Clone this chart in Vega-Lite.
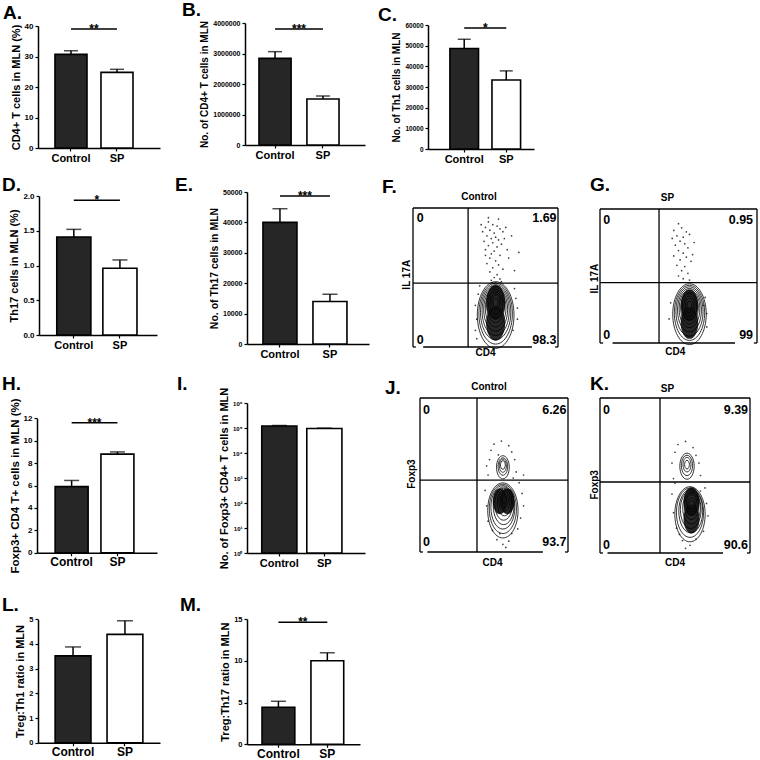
{
"$schema":"https://vega.github.io/schema/vega-lite/v6.json",
"background":"white",
"padding":0,
"columns":4,
"spacing":0,
"bounds":"flush",
"align":"each",
"config":{
 "view":{"stroke":null},
 "font":"Liberation Sans",
 "axis":{"labelFont":"Liberation Sans","labelFontWeight":"bold","labelColor":"black","titleFont":"Liberation Sans","titleFontWeight":"bold","titleFontSize":11,"titleColor":"black","domainColor":"black","domainWidth":1.5,"tickColor":"black","tickWidth":1.2,"tickSize":3,"labelPadding":2,"titlePadding":3,"grid":false},
 "axisX":{"labelFontSize":11,"labelAngle":0,"labelPadding":1},
 "axisY":{"labelFontSize":8},
 "title":{"font":"Liberation Sans","fontSize":19,"fontWeight":"bold","color":"black","anchor":"start","frame":"group","offset":0,"baseline":"alphabetic"},
 "text":{"font":"Liberation Sans","fontWeight":"bold","color":"black"}
},
"datasets":{
 "bars":[
  {"p":"A","g":"Control","m":30.7,"u":31.9},{"p":"A","g":"SP","m":24.8,"u":25.8},
  {"p":"B","g":"Control","m":2840000,"u":3060000},{"p":"B","g":"SP","m":1510000,"u":1610000},
  {"p":"C","g":"Control","m":48600,"u":53100},{"p":"C","g":"SP","m":33400,"u":37800},
  {"p":"D","g":"Control","m":1.41,"u":1.52},{"p":"D","g":"SP","m":0.96,"u":1.08},
  {"p":"E","g":"Control","m":40000,"u":44500},{"p":"E","g":"SP","m":14000,"u":16400},
  {"p":"H","g":"Control","m":5.9,"u":6.45},{"p":"H","g":"SP","m":8.8,"u":9.0},
  {"p":"I","g":"Control","m":120000,"u":126000},{"p":"I","g":"SP","m":95000,"u":99000},
  {"p":"L","g":"Control","m":3.52,"u":3.88},{"p":"L","g":"SP","m":4.39,"u":4.94},
  {"p":"M","g":"Control","m":4.43,"u":5.15},{"p":"M","g":"SP","m":10.0,"u":10.95}
 ],
 "sig":[
  {"p":"A","m":39,"s":"**"},{"p":"B","m":3800000,"s":"***"},{"p":"C","m":58500,"s":"*"},
  {"p":"D","m":1.94,"s":"*"},{"p":"E","m":48700,"s":"***"},{"p":"H","m":11.6,"s":"***"},{"p":"M","m":14.6,"s":"**"}
 ],
 "rings":[
  {"p":"F","x":57,"y":23,"r":23},{"p":"F","x":57,"y":24,"r":21},{"p":"F","x":57,"y":25,"r":19},{"p":"F","x":57,"y":26,"r":17},{"p":"F","x":57,"y":27,"r":15},{"p":"F","x":57,"y":28,"r":13},{"p":"F","x":57,"y":29,"r":11},{"p":"F","x":57,"y":30,"r":9},{"p":"F","x":57,"y":31,"r":7},{"p":"F","x":57,"y":32,"r":5},{"p":"F","x":57,"y":32,"r":3},
  {"p":"G","x":57,"y":21.5,"r":21},{"p":"G","x":57,"y":22.5,"r":19},{"p":"G","x":57,"y":23.5,"r":17},{"p":"G","x":57,"y":24.5,"r":15},{"p":"G","x":57,"y":25.5,"r":13},{"p":"G","x":57,"y":26,"r":11},{"p":"G","x":57,"y":27,"r":9},{"p":"G","x":57,"y":27.5,"r":7},{"p":"G","x":57,"y":28,"r":5},{"p":"G","x":57,"y":28,"r":3},
  {"p":"J","x":56,"y":27,"r":19},{"p":"J","x":56,"y":28,"r":17},{"p":"J","x":56,"y":29,"r":15},{"p":"J","x":56.5,"y":30,"r":13},{"p":"J","x":56.5,"y":31,"r":11},{"p":"J","x":57,"y":32,"r":9},{"p":"J","x":57,"y":33,"r":7},{"p":"J","x":57,"y":33.5,"r":5},{"p":"J","x":57,"y":34,"r":3},
  {"p":"J","x":56,"y":55,"r":8},{"p":"J","x":56,"y":55.5,"r":6},{"p":"J","x":56,"y":56,"r":4.5},{"p":"J","x":56,"y":56.5,"r":3},
  {"p":"K","x":60,"y":25,"r":19},{"p":"K","x":60,"y":26,"r":17},{"p":"K","x":60.5,"y":27,"r":15},{"p":"K","x":60.5,"y":28,"r":13},{"p":"K","x":61,"y":29,"r":11},{"p":"K","x":61,"y":30,"r":9},{"p":"K","x":61,"y":31,"r":7},{"p":"K","x":61,"y":31,"r":5},{"p":"K","x":61,"y":31,"r":3},
  {"p":"K","x":58,"y":56,"r":9},{"p":"K","x":58,"y":56.5,"r":7},{"p":"K","x":58,"y":57,"r":5},{"p":"K","x":58,"y":57,"r":3}
 ],
 "cores":[
  {"p":"F","x":57,"y":32,"r":12},{"p":"F","x":57,"y":17,"r":12},
  {"p":"G","x":57,"y":28,"r":11},{"p":"G","x":57,"y":15,"r":11},
  {"p":"J","x":54,"y":33,"r":9},{"p":"J","x":59,"y":33,"r":9},
  {"p":"K","x":61,"y":33,"r":10},{"p":"K","x":61,"y":22,"r":10}
 ],
 "dots":[
  {"p":"F","x":52,"y":90},{"p":"F","x":55,"y":88},{"p":"F","x":50,"y":86},{"p":"F","x":58,"y":87},{"p":"F","x":53,"y":84},{"p":"F","x":60,"y":85},{"p":"F","x":48,"y":83},{"p":"F","x":56,"y":82},{"p":"F","x":62,"y":83},{"p":"F","x":51,"y":80},{"p":"F","x":57,"y":79},{"p":"F","x":54,"y":78},{"p":"F","x":59,"y":77},{"p":"F","x":49,"y":76},{"p":"F","x":63,"y":78},{"p":"F","x":55,"y":75},{"p":"F","x":52,"y":73},{"p":"F","x":58,"y":72},{"p":"F","x":61,"y":74},{"p":"F","x":50,"y":70},{"p":"F","x":56,"y":69},{"p":"F","x":54,"y":67},{"p":"F","x":60,"y":66},{"p":"F","x":65,"y":70},{"p":"F","x":53,"y":64},{"p":"F","x":57,"y":62},{"p":"F","x":51,"y":60},{"p":"F","x":59,"y":59},{"p":"F","x":55,"y":57},{"p":"F","x":62,"y":56},{"p":"F","x":53,"y":54},{"p":"F","x":58,"y":52},{"p":"F","x":56,"y":50},{"p":"F","x":60,"y":49},{"p":"F","x":54,"y":48},{"p":"F","x":66,"y":64},{"p":"F","x":47,"y":88},{"p":"F","x":64,"y":86},{"p":"F","x":52,"y":93},{"p":"F","x":59,"y":92},{"p":"F","x":68,"y":80},{"p":"F","x":50,"y":66},{"p":"F","x":57,"y":46},{"p":"F","x":61,"y":47},{"p":"F","x":55,"y":46},{"p":"F","x":73,"y":68},{"p":"F","x":70,"y":55},{"p":"F","x":43,"y":30},{"p":"F","x":44,"y":20},{"p":"F","x":43,"y":12},{"p":"F","x":45,"y":38},{"p":"F","x":44,"y":6},{"p":"F","x":71,"y":35},{"p":"F","x":72,"y":28},{"p":"F","x":70,"y":42},{"p":"F","x":46,"y":44},{"p":"F","x":69,"y":12},{"p":"F","x":72,"y":20},
  {"p":"G","x":50,"y":89},{"p":"G","x":52,"y":86},{"p":"G","x":47,"y":84},{"p":"G","x":55,"y":83},{"p":"G","x":49,"y":80},{"p":"G","x":53,"y":79},{"p":"G","x":57,"y":81},{"p":"G","x":51,"y":76},{"p":"G","x":48,"y":73},{"p":"G","x":54,"y":74},{"p":"G","x":56,"y":71},{"p":"G","x":50,"y":69},{"p":"G","x":53,"y":67},{"p":"G","x":47,"y":65},{"p":"G","x":55,"y":64},{"p":"G","x":51,"y":62},{"p":"G","x":58,"y":61},{"p":"G","x":49,"y":58},{"p":"G","x":54,"y":57},{"p":"G","x":52,"y":54},{"p":"G","x":56,"y":52},{"p":"G","x":50,"y":50},{"p":"G","x":53,"y":48},{"p":"G","x":57,"y":47},{"p":"G","x":59,"y":66},{"p":"G","x":46,"y":78},{"p":"G","x":60,"y":75},{"p":"G","x":66,"y":28},{"p":"G","x":68,"y":22},{"p":"G","x":67,"y":34},{"p":"G","x":45,"y":30},{"p":"G","x":44,"y":18},{"p":"G","x":68,"y":12},
  {"p":"J","x":50,"y":70},{"p":"J","x":55,"y":72},{"p":"J","x":60,"y":69},{"p":"J","x":62,"y":65},{"p":"J","x":48,"y":66},{"p":"J","x":53,"y":63},{"p":"J","x":64,"y":60},{"p":"J","x":47,"y":60},{"p":"J","x":65,"y":52},{"p":"J","x":46,"y":50},{"p":"J","x":67,"y":45},{"p":"J","x":44,"y":40},{"p":"J","x":69,"y":38},{"p":"J","x":45,"y":30},{"p":"J","x":70,"y":30},{"p":"J","x":68,"y":22},{"p":"J","x":46,"y":20},{"p":"J","x":52,"y":8},{"p":"J","x":56,"y":5},{"p":"J","x":60,"y":7},{"p":"J","x":54,"y":12},{"p":"J","x":62,"y":12},{"p":"J","x":49,"y":14},{"p":"J","x":66,"y":15},{"p":"J","x":58,"y":3},{"p":"J","x":63,"y":48},{"p":"J","x":45,"y":56},{"p":"J","x":70,"y":50},
  {"p":"K","x":52,"y":70},{"p":"K","x":57,"y":72},{"p":"K","x":62,"y":68},{"p":"K","x":64,"y":63},{"p":"K","x":50,"y":65},{"p":"K","x":66,"y":58},{"p":"K","x":48,"y":58},{"p":"K","x":67,"y":50},{"p":"K","x":49,"y":48},{"p":"K","x":70,"y":42},{"p":"K","x":48,"y":38},{"p":"K","x":71,"y":32},{"p":"K","x":49,"y":26},{"p":"K","x":72,"y":24},{"p":"K","x":51,"y":16},{"p":"K","x":69,"y":14},{"p":"K","x":55,"y":8},{"p":"K","x":60,"y":5},{"p":"K","x":64,"y":9},{"p":"K","x":57,"y":3},{"p":"K","x":53,"y":12},{"p":"K","x":67,"y":40},{"p":"K","x":50,"y":45}
 ],
 "lines":[
  {"p":"F","x":0,"x2":100,"y":100,"y2":100},{"p":"F","x":0,"x2":0,"y":0,"y2":100},{"p":"F","x":100,"x2":100,"y":0,"y2":100},{"p":"F","x":7,"x2":82,"y":0,"y2":0},{"p":"F","x":0,"x2":2,"y":0,"y2":0},{"p":"F","x":98,"x2":100,"y":0,"y2":0},{"p":"F","x":38,"x2":38,"y":0,"y2":100},{"p":"F","x":0,"x2":100,"y":46,"y2":46},
  {"p":"G","x":0,"x2":100,"y":100,"y2":100},{"p":"G","x":0,"x2":0,"y":0,"y2":100},{"p":"G","x":100,"x2":100,"y":0,"y2":100},{"p":"G","x":8,"x2":86,"y":0,"y2":0},{"p":"G","x":0,"x2":2,"y":0,"y2":0},{"p":"G","x":98,"x2":100,"y":0,"y2":0},{"p":"G","x":37.6,"x2":37.6,"y":0,"y2":100},{"p":"G","x":0,"x2":100,"y":45,"y2":45},
  {"p":"J","x":0,"x2":100,"y":100,"y2":100},{"p":"J","x":0,"x2":0,"y":0,"y2":100},{"p":"J","x":100,"x2":100,"y":0,"y2":100},{"p":"J","x":5,"x2":83,"y":0,"y2":0},{"p":"J","x":0,"x2":2,"y":0,"y2":0},{"p":"J","x":98,"x2":100,"y":0,"y2":0},{"p":"J","x":38.5,"x2":38.5,"y":0,"y2":100},{"p":"J","x":0,"x2":100,"y":46.7,"y2":46.7},
  {"p":"K","x":0,"x2":100,"y":100,"y2":100},{"p":"K","x":0,"x2":0,"y":0,"y2":100},{"p":"K","x":100,"x2":100,"y":0,"y2":100},{"p":"K","x":5,"x2":82,"y":0,"y2":0},{"p":"K","x":0,"x2":2,"y":0,"y2":0},{"p":"K","x":98,"x2":100,"y":0,"y2":0},{"p":"K","x":40,"x2":40,"y":0,"y2":100},{"p":"K","x":0,"x2":100,"y":45.8,"y2":45.8}
 ],
 "ftext":[
  {"p":"F","x":45.5,"y":108,"t":"Control","k":"h"},{"p":"F","x":50,"y":-4.5,"t":"CD4","k":"h"},{"p":"F","x":-4,"y":52,"t":"IL 17A","k":"v"},{"p":"F","x":2.5,"y":93,"t":"0","k":"nl"},{"p":"F","x":99,"y":93,"t":"1.69","k":"nr"},{"p":"F","x":2.5,"y":5,"t":"0","k":"nl"},{"p":"F","x":99,"y":5,"t":"98.3","k":"nr"},
  {"p":"G","x":43,"y":108,"t":"SP","k":"h"},{"p":"G","x":48,"y":-7,"t":"CD4","k":"h"},{"p":"G","x":-3,"y":48,"t":"IL 17A","k":"v"},{"p":"G","x":2,"y":92,"t":"0","k":"nl"},{"p":"G","x":97.5,"y":92,"t":"0.95","k":"nr"},{"p":"G","x":2,"y":6,"t":"0","k":"nl"},{"p":"G","x":97.5,"y":6,"t":"99","k":"nr"},
  {"p":"J","x":46.6,"y":107,"t":"Control","k":"h"},{"p":"J","x":49,"y":-7,"t":"CD4","k":"h"},{"p":"J","x":-5.4,"y":50.6,"t":"Foxp3","k":"v"},{"p":"J","x":2,"y":92,"t":"0","k":"nl"},{"p":"J","x":99,"y":92,"t":"6.26","k":"nr"},{"p":"J","x":2,"y":6.5,"t":"0","k":"nl"},{"p":"J","x":99,"y":6.5,"t":"93.7","k":"nr"},
  {"p":"K","x":45,"y":106,"t":"SP","k":"h"},{"p":"K","x":50,"y":-6.5,"t":"CD4","k":"h"},{"p":"K","x":-3.3,"y":44,"t":"Foxp3","k":"v"},{"p":"K","x":2,"y":92,"t":"0","k":"nl"},{"p":"K","x":98.7,"y":92,"t":"9.39","k":"nr"},{"p":"K","x":2,"y":5,"t":"0","k":"nl"},{"p":"K","x":98.7,"y":5,"t":"90.6","k":"nr"}
 ]
},
"concat":[
 {"width":200,"height":175,"title":{"text":"A.","dx":3,"dy":27},
  "encoding":{"x":{"field":"g","type":"nominal","scale":{"domain":["Control","SP"],"range":[38,160],"paddingInner":0.304,"paddingOuter":0.478,"align":0.386},"axis":{"title":null,"offset":-27}},
   "y":{"field":"m","type":"quantitative","scale":{"domain":[0,40],"range":[148,26],"nice":false},"axis":{"title":"CD4+ T cells in MLN (%)","values":[0,10,20,30,40],"format":"d","offset":-38,"labelFontSize":8}}},
  "layer":[
   {"data":{"name":"bars"},"transform":[{"filter":"datum.p==='A'"}],"mark":{"type":"bar","stroke":"black","strokeWidth":1.6},"encoding":{"fill":{"field":"g","type":"nominal","scale":{"domain":["Control","SP"],"range":["#262626","#ffffff"]},"legend":null}}},
   {"data":{"name":"bars"},"transform":[{"filter":"datum.p==='A'"}],"mark":{"type":"rule","strokeWidth":1.5,"color":"black"},"encoding":{"y2":{"field":"u"}}},
   {"data":{"name":"bars"},"transform":[{"filter":"datum.p==='A'"}],"mark":{"type":"tick","size":14,"thickness":1.5,"color":"black"},"encoding":{"y":{"field":"u","type":"quantitative"}}},
   {"data":{"name":"sig"},"transform":[{"filter":"datum.p==='A'"}],"mark":{"type":"rule","strokeWidth":1.5,"color":"black"},"encoding":{"x":{"datum":"Control"},"x2":{"datum":"SP"}}},
   {"data":{"name":"sig"},"transform":[{"filter":"datum.p==='A'"}],"mark":{"type":"text","fontSize":12,"baseline":"alphabetic","dy":4},"encoding":{"x":{"datum":"Control","bandPosition":1.218},"text":{"field":"s"}}}
  ]},
 {"width":195,"height":175,"title":{"text":"B.","dx":-18,"dy":24},
  "encoding":{"x":{"field":"g","type":"nominal","scale":{"domain":["Control","SP"],"range":[45,165],"paddingInner":0.33,"paddingOuter":0.417,"align":0.35},"axis":{"title":null,"offset":-30}},
   "y":{"field":"m","type":"quantitative","scale":{"domain":[0,4000000],"range":[145,23],"nice":false},"axis":{"title":"No. of CD4+ T cells in MLN","titleFontSize":10,"values":[0,1000000,2000000,3000000,4000000],"format":"d","offset":-45,"labelFontSize":7}}},
  "layer":[
   {"data":{"name":"bars"},"transform":[{"filter":"datum.p==='B'"}],"mark":{"type":"bar","stroke":"black","strokeWidth":1.6},"encoding":{"fill":{"field":"g","type":"nominal","scale":{"domain":["Control","SP"],"range":["#262626","#ffffff"]},"legend":null}}},
   {"data":{"name":"bars"},"transform":[{"filter":"datum.p==='B'"}],"mark":{"type":"rule","strokeWidth":1.5,"color":"black"},"encoding":{"y2":{"field":"u"}}},
   {"data":{"name":"bars"},"transform":[{"filter":"datum.p==='B'"}],"mark":{"type":"tick","size":14,"thickness":1.5,"color":"black"},"encoding":{"y":{"field":"u","type":"quantitative"}}},
   {"data":{"name":"sig"},"transform":[{"filter":"datum.p==='B'"}],"mark":{"type":"rule","strokeWidth":1.5,"color":"black"},"encoding":{"x":{"datum":"Control"},"x2":{"datum":"SP"}}},
   {"data":{"name":"sig"},"transform":[{"filter":"datum.p==='B'"}],"mark":{"type":"text","fontSize":12,"baseline":"alphabetic","dy":4},"encoding":{"x":{"datum":"Control","bandPosition":1.246},"text":{"field":"s"}}}
  ]},
 {"width":185,"height":175,"title":{"text":"C.","dx":-17,"dy":29},
  "encoding":{"x":{"field":"g","type":"nominal","scale":{"domain":["Control","SP"],"range":[33,139],"paddingInner":0.32,"paddingOuter":0.42,"align":0.62},"axis":{"title":null,"offset":-26}},
   "y":{"field":"m","type":"quantitative","scale":{"domain":[0,60000],"range":[149,25],"nice":false},"axis":{"title":"No. of Th1 cells in MLN","titleFontSize":10,"values":[0,10000,20000,30000,40000,50000,60000],"format":"d","offset":-33,"labelFontSize":6.5}}},
  "layer":[
   {"data":{"name":"bars"},"transform":[{"filter":"datum.p==='C'"}],"mark":{"type":"bar","stroke":"black","strokeWidth":1.6},"encoding":{"fill":{"field":"g","type":"nominal","scale":{"domain":["Control","SP"],"range":["#262626","#ffffff"]},"legend":null}}},
   {"data":{"name":"bars"},"transform":[{"filter":"datum.p==='C'"}],"mark":{"type":"rule","strokeWidth":1.5,"color":"black"},"encoding":{"y2":{"field":"u"}}},
   {"data":{"name":"bars"},"transform":[{"filter":"datum.p==='C'"}],"mark":{"type":"tick","size":13,"thickness":1.5,"color":"black"},"encoding":{"y":{"field":"u","type":"quantitative"}}},
   {"data":{"name":"sig"},"transform":[{"filter":"datum.p==='C'"}],"mark":{"type":"rule","strokeWidth":1.5,"color":"black"},"encoding":{"x":{"datum":"Control"},"x2":{"datum":"SP"}}},
   {"data":{"name":"sig"},"transform":[{"filter":"datum.p==='C'"}],"mark":{"type":"text","fontSize":12,"baseline":"alphabetic","dy":4},"encoding":{"x":{"datum":"Control","bandPosition":1.235},"text":{"field":"s"}}}
  ]},
 {"width":180,"height":175,"data":{"values":[{"x":0}]},"mark":{"type":"point","opacity":0,"size":1},"encoding":{}},
 {"width":200,"height":197,"title":{"text":"D.","dx":2,"dy":24},
  "encoding":{"x":{"field":"g","type":"nominal","scale":{"domain":["Control","SP"],"range":[39,157],"paddingInner":0.26,"paddingOuter":0.41,"align":0.47},"axis":{"title":null,"offset":-37}},
   "y":{"field":"m","type":"quantitative","scale":{"domain":[0,2],"range":[160,21],"nice":false},"axis":{"title":"Th17 cells in MLN (%)","values":[0,0.5,1,1.5,2],"format":".1f","offset":-39,"labelFontSize":8}}},
  "layer":[
   {"data":{"name":"bars"},"transform":[{"filter":"datum.p==='D'"}],"mark":{"type":"bar","stroke":"black","strokeWidth":1.6},"encoding":{"fill":{"field":"g","type":"nominal","scale":{"domain":["Control","SP"],"range":["#262626","#ffffff"]},"legend":null}}},
   {"data":{"name":"bars"},"transform":[{"filter":"datum.p==='D'"}],"mark":{"type":"rule","strokeWidth":1.5,"color":"black"},"encoding":{"y2":{"field":"u"}}},
   {"data":{"name":"bars"},"transform":[{"filter":"datum.p==='D'"}],"mark":{"type":"tick","size":15,"thickness":1.5,"color":"black"},"encoding":{"y":{"field":"u","type":"quantitative"}}},
   {"data":{"name":"sig"},"transform":[{"filter":"datum.p==='D'"}],"mark":{"type":"rule","strokeWidth":1.5,"color":"black"},"encoding":{"x":{"datum":"Control"},"x2":{"datum":"SP"}}},
   {"data":{"name":"sig"},"transform":[{"filter":"datum.p==='D'"}],"mark":{"type":"text","fontSize":12,"baseline":"alphabetic","dy":4},"encoding":{"x":{"datum":"Control","bandPosition":1.176},"text":{"field":"s"}}}
  ]},
 {"width":195,"height":197,"title":{"text":"E.","dx":-25,"dy":24},
  "encoding":{"x":{"field":"g","type":"nominal","scale":{"domain":["Control","SP"],"range":[47,169],"paddingInner":0.32,"paddingOuter":0.38,"align":0.42},"axis":{"title":null,"offset":-28}},
   "y":{"field":"m","type":"quantitative","scale":{"domain":[0,50000],"range":[169,17],"nice":false},"axis":{"title":"No. of Th17 cells in MLN","titleFontSize":10.5,"values":[0,10000,20000,30000,40000,50000],"format":"d","offset":-47,"labelFontSize":7}}},
  "layer":[
   {"data":{"name":"bars"},"transform":[{"filter":"datum.p==='E'"}],"mark":{"type":"bar","stroke":"black","strokeWidth":1.6},"encoding":{"fill":{"field":"g","type":"nominal","scale":{"domain":["Control","SP"],"range":["#262626","#ffffff"]},"legend":null}}},
   {"data":{"name":"bars"},"transform":[{"filter":"datum.p==='E'"}],"mark":{"type":"rule","strokeWidth":1.5,"color":"black"},"encoding":{"y2":{"field":"u"}}},
   {"data":{"name":"bars"},"transform":[{"filter":"datum.p==='E'"}],"mark":{"type":"tick","size":15,"thickness":1.5,"color":"black"},"encoding":{"y":{"field":"u","type":"quantitative"}}},
   {"data":{"name":"sig"},"transform":[{"filter":"datum.p==='E'"}],"mark":{"type":"rule","strokeWidth":1.5,"color":"black"},"encoding":{"x":{"datum":"Control"},"x2":{"datum":"SP"}}},
   {"data":{"name":"sig"},"transform":[{"filter":"datum.p==='E'"}],"mark":{"type":"text","fontSize":12,"baseline":"alphabetic","dy":4},"encoding":{"x":{"datum":"Control","bandPosition":1.235},"text":{"field":"s"}}}
  ]},
 {"width":185,"height":197,"title":{"text":"F.","dx":-13,"dy":26},
  "encoding":{"x":{"field":"x","type":"quantitative","scale":{"domain":[0,100],"range":[18,163],"nice":false,"zero":false},"axis":null},
   "y":{"field":"y","type":"quantitative","scale":{"domain":[0,100],"range":[172,33],"nice":false,"zero":false},"axis":null}},
  "layer":[
   {"data":{"name":"cores"},"transform":[{"filter":"datum.p==='F'"}],"mark":{"type":"point","shape":"M0,-1A0.55,1,0,1,1,0,1A0.55,1,0,1,1,0,-1Z","filled":true,"color":"#111111","opacity":0.9},"encoding":{"size":{"field":"r","type":"quantitative","scale":{"type":"pow","exponent":2,"domain":[0,30],"range":[0,7569]},"legend":null}}},
   {"data":{"name":"rings"},"transform":[{"filter":"datum.p==='F'"}],"mark":{"type":"point","shape":"M0,-1A0.55,1,0,1,1,0,1A0.55,1,0,1,1,0,-1Z","filled":false,"stroke":"black","strokeWidth":0.8,"opacity":1},"encoding":{"size":{"field":"r","type":"quantitative","scale":{"type":"pow","exponent":2,"domain":[0,30],"range":[0,7569]},"legend":null}}},
   {"data":{"name":"dots"},"transform":[{"filter":"datum.p==='F'"}],"mark":{"type":"point","filled":true,"size":3,"color":"black","opacity":0.75}},
   {"data":{"name":"lines"},"transform":[{"filter":"datum.p==='F'"}],"mark":{"type":"rule","strokeWidth":1.3,"color":"black"},"encoding":{"x2":{"field":"x2"},"y2":{"field":"y2"}}},
   {"data":{"name":"ftext"},"transform":[{"filter":"datum.p==='F' && datum.k==='nl'"}],"mark":{"type":"text","align":"left","baseline":"middle","fontSize":12.5},"encoding":{"text":{"field":"t"}}},
   {"data":{"name":"ftext"},"transform":[{"filter":"datum.p==='F' && datum.k==='nr'"}],"mark":{"type":"text","align":"right","baseline":"middle","fontSize":12.5},"encoding":{"text":{"field":"t"}}},
   {"data":{"name":"ftext"},"transform":[{"filter":"datum.p==='F' && datum.k==='h'"}],"mark":{"type":"text","align":"center","baseline":"middle","fontSize":10},"encoding":{"text":{"field":"t"}}},
   {"data":{"name":"ftext"},"transform":[{"filter":"datum.p==='F' && datum.k==='v'"}],"mark":{"type":"text","align":"center","baseline":"middle","fontSize":10,"angle":270},"encoding":{"text":{"field":"t"}}}
  ]},
 {"width":180,"height":197,"title":{"text":"G.","dx":10,"dy":24},
  "encoding":{"x":{"field":"x","type":"quantitative","scale":{"domain":[0,100],"range":[20,177],"nice":false,"zero":false},"axis":null},
   "y":{"field":"y","type":"quantitative","scale":{"domain":[0,100],"range":[168,34],"nice":false,"zero":false},"axis":null}},
  "layer":[
   {"data":{"name":"cores"},"transform":[{"filter":"datum.p==='G'"}],"mark":{"type":"point","shape":"M0,-1A0.55,1,0,1,1,0,1A0.55,1,0,1,1,0,-1Z","filled":true,"color":"#111111","opacity":0.9},"encoding":{"size":{"field":"r","type":"quantitative","scale":{"type":"pow","exponent":2,"domain":[0,30],"range":[0,7569]},"legend":null}}},
   {"data":{"name":"rings"},"transform":[{"filter":"datum.p==='G'"}],"mark":{"type":"point","shape":"M0,-1A0.55,1,0,1,1,0,1A0.55,1,0,1,1,0,-1Z","filled":false,"stroke":"black","strokeWidth":0.8,"opacity":1},"encoding":{"size":{"field":"r","type":"quantitative","scale":{"type":"pow","exponent":2,"domain":[0,30],"range":[0,7569]},"legend":null}}},
   {"data":{"name":"dots"},"transform":[{"filter":"datum.p==='G'"}],"mark":{"type":"point","filled":true,"size":3,"color":"black","opacity":0.75}},
   {"data":{"name":"lines"},"transform":[{"filter":"datum.p==='G'"}],"mark":{"type":"rule","strokeWidth":1.3,"color":"black"},"encoding":{"x2":{"field":"x2"},"y2":{"field":"y2"}}},
   {"data":{"name":"ftext"},"transform":[{"filter":"datum.p==='G' && datum.k==='nl'"}],"mark":{"type":"text","align":"left","baseline":"middle","fontSize":12.5},"encoding":{"text":{"field":"t"}}},
   {"data":{"name":"ftext"},"transform":[{"filter":"datum.p==='G' && datum.k==='nr'"}],"mark":{"type":"text","align":"right","baseline":"middle","fontSize":12.5},"encoding":{"text":{"field":"t"}}},
   {"data":{"name":"ftext"},"transform":[{"filter":"datum.p==='G' && datum.k==='h'"}],"mark":{"type":"text","align":"center","baseline":"middle","fontSize":10},"encoding":{"text":{"field":"t"}}},
   {"data":{"name":"ftext"},"transform":[{"filter":"datum.p==='G' && datum.k==='v'"}],"mark":{"type":"text","align":"center","baseline":"middle","fontSize":10,"angle":270},"encoding":{"text":{"field":"t"}}}
  ]},
 {"width":200,"height":203,"title":{"text":"H.","dx":2,"dy":26},
  "encoding":{"x":{"field":"g","type":"nominal","scale":{"domain":["Control","SP"],"range":[37,157],"paddingInner":0.28,"paddingOuter":0.45,"align":0.44},"axis":{"title":null,"offset":-22.3,"labelFontSize":12}},
   "y":{"field":"m","type":"quantitative","scale":{"domain":[0,12],"range":[180.7,46.3],"nice":false},"axis":{"title":"Foxp3+ CD4 T+ cells in MLN (%)","titleFontSize":11.5,"values":[0,2,4,6,8,10,12],"format":"d","offset":-37,"labelFontSize":8}}},
  "layer":[
   {"data":{"name":"bars"},"transform":[{"filter":"datum.p==='H'"}],"mark":{"type":"bar","stroke":"black","strokeWidth":1.6},"encoding":{"fill":{"field":"g","type":"nominal","scale":{"domain":["Control","SP"],"range":["#262626","#ffffff"]},"legend":null}}},
   {"data":{"name":"bars"},"transform":[{"filter":"datum.p==='H'"}],"mark":{"type":"rule","strokeWidth":1.5,"color":"black"},"encoding":{"y2":{"field":"u"}}},
   {"data":{"name":"bars"},"transform":[{"filter":"datum.p==='H'"}],"mark":{"type":"tick","size":15,"thickness":1.5,"color":"black"},"encoding":{"y":{"field":"u","type":"quantitative"}}},
   {"data":{"name":"sig"},"transform":[{"filter":"datum.p==='H'"}],"mark":{"type":"rule","strokeWidth":1.5,"color":"black"},"encoding":{"x":{"datum":"Control"},"x2":{"datum":"SP"}}},
   {"data":{"name":"sig"},"transform":[{"filter":"datum.p==='H'"}],"mark":{"type":"text","fontSize":12,"baseline":"alphabetic","dy":4},"encoding":{"x":{"datum":"Control","bandPosition":1.194},"text":{"field":"s"}}}
  ]},
 {"width":195,"height":203,"title":{"text":"I.","dx":-23,"dy":26},
  "encoding":{"x":{"field":"g","type":"nominal","scale":{"domain":["Control","SP"],"range":[47,165],"paddingInner":0.22,"paddingOuter":0.42,"align":0.39},"axis":{"title":null,"offset":-22}},
   "y":{"field":"m","type":"quantitative","scale":{"type":"log","domain":[1,1000000],"range":[181,31],"nice":false},"axis":{"title":"No. of Foxp3+ CD4+ T cells in MLN","values":[1,10,100,1000,10000,100000,1000000],"labelExpr":"'10' + ['⁰','¹','²','³','⁴','⁵','⁶'][round(log(datum.value)/LN10)]","offset":-47,"labelFontSize":6}}},
  "layer":[
   {"data":{"name":"bars"},"transform":[{"filter":"datum.p==='I'"}],"mark":{"type":"bar","stroke":"black","strokeWidth":1.6},"encoding":{"y2":{"datum":1},"fill":{"field":"g","type":"nominal","scale":{"domain":["Control","SP"],"range":["#262626","#ffffff"]},"legend":null}}},
   {"data":{"name":"bars"},"transform":[{"filter":"datum.p==='I'"}],"mark":{"type":"rule","strokeWidth":1.5,"color":"black"},"encoding":{"y2":{"field":"u"}}},
   {"data":{"name":"bars"},"transform":[{"filter":"datum.p==='I'"}],"mark":{"type":"tick","size":15,"thickness":1.5,"color":"black"},"encoding":{"y":{"field":"u","type":"quantitative"}}}
  ]},
 {"width":185,"height":203,"title":{"text":"J.","dx":-10,"dy":30},
  "encoding":{"x":{"field":"x","type":"quantitative","scale":{"domain":[0,100],"range":[25,173],"nice":false,"zero":false},"axis":null},
   "y":{"field":"y","type":"quantitative","scale":{"domain":[0,100],"range":[180,26],"nice":false,"zero":false},"axis":null}},
  "layer":[
   {"data":{"name":"cores"},"transform":[{"filter":"datum.p==='J'"}],"mark":{"type":"point","shape":"M0,-1A0.55,1,0,1,1,0,1A0.55,1,0,1,1,0,-1Z","filled":true,"color":"#111111","opacity":0.9},"encoding":{"size":{"field":"r","type":"quantitative","scale":{"type":"pow","exponent":2,"domain":[0,30],"range":[0,7569]},"legend":null}}},
   {"data":{"name":"rings"},"transform":[{"filter":"datum.p==='J'"}],"mark":{"type":"point","shape":"M0,-1A0.55,1,0,1,1,0,1A0.55,1,0,1,1,0,-1Z","filled":false,"stroke":"black","strokeWidth":0.8,"opacity":1},"encoding":{"size":{"field":"r","type":"quantitative","scale":{"type":"pow","exponent":2,"domain":[0,30],"range":[0,7569]},"legend":null}}},
   {"data":{"name":"dots"},"transform":[{"filter":"datum.p==='J'"}],"mark":{"type":"point","filled":true,"size":3,"color":"black","opacity":0.75}},
   {"data":{"name":"lines"},"transform":[{"filter":"datum.p==='J'"}],"mark":{"type":"rule","strokeWidth":1.3,"color":"black"},"encoding":{"x2":{"field":"x2"},"y2":{"field":"y2"}}},
   {"data":{"name":"ftext"},"transform":[{"filter":"datum.p==='J' && datum.k==='nl'"}],"mark":{"type":"text","align":"left","baseline":"middle","fontSize":12.5},"encoding":{"text":{"field":"t"}}},
   {"data":{"name":"ftext"},"transform":[{"filter":"datum.p==='J' && datum.k==='nr'"}],"mark":{"type":"text","align":"right","baseline":"middle","fontSize":12.5},"encoding":{"text":{"field":"t"}}},
   {"data":{"name":"ftext"},"transform":[{"filter":"datum.p==='J' && datum.k==='h'"}],"mark":{"type":"text","align":"center","baseline":"middle","fontSize":10},"encoding":{"text":{"field":"t"}}},
   {"data":{"name":"ftext"},"transform":[{"filter":"datum.p==='J' && datum.k==='v'"}],"mark":{"type":"text","align":"center","baseline":"middle","fontSize":10,"angle":270},"encoding":{"text":{"field":"t"}}}
  ]},
 {"width":180,"height":203,"title":{"text":"K.","dx":10,"dy":26},
  "encoding":{"x":{"field":"x","type":"quantitative","scale":{"domain":[0,100],"range":[20,170],"nice":false,"zero":false},"axis":null},
   "y":{"field":"y","type":"quantitative","scale":{"domain":[0,100],"range":[181,26],"nice":false,"zero":false},"axis":null}},
  "layer":[
   {"data":{"name":"cores"},"transform":[{"filter":"datum.p==='K'"}],"mark":{"type":"point","shape":"M0,-1A0.55,1,0,1,1,0,1A0.55,1,0,1,1,0,-1Z","filled":true,"color":"#111111","opacity":0.9},"encoding":{"size":{"field":"r","type":"quantitative","scale":{"type":"pow","exponent":2,"domain":[0,30],"range":[0,7569]},"legend":null}}},
   {"data":{"name":"rings"},"transform":[{"filter":"datum.p==='K'"}],"mark":{"type":"point","shape":"M0,-1A0.55,1,0,1,1,0,1A0.55,1,0,1,1,0,-1Z","filled":false,"stroke":"black","strokeWidth":0.8,"opacity":1},"encoding":{"size":{"field":"r","type":"quantitative","scale":{"type":"pow","exponent":2,"domain":[0,30],"range":[0,7569]},"legend":null}}},
   {"data":{"name":"dots"},"transform":[{"filter":"datum.p==='K'"}],"mark":{"type":"point","filled":true,"size":3,"color":"black","opacity":0.75}},
   {"data":{"name":"lines"},"transform":[{"filter":"datum.p==='K'"}],"mark":{"type":"rule","strokeWidth":1.3,"color":"black"},"encoding":{"x2":{"field":"x2"},"y2":{"field":"y2"}}},
   {"data":{"name":"ftext"},"transform":[{"filter":"datum.p==='K' && datum.k==='nl'"}],"mark":{"type":"text","align":"left","baseline":"middle","fontSize":12.5},"encoding":{"text":{"field":"t"}}},
   {"data":{"name":"ftext"},"transform":[{"filter":"datum.p==='K' && datum.k==='nr'"}],"mark":{"type":"text","align":"right","baseline":"middle","fontSize":12.5},"encoding":{"text":{"field":"t"}}},
   {"data":{"name":"ftext"},"transform":[{"filter":"datum.p==='K' && datum.k==='h'"}],"mark":{"type":"text","align":"center","baseline":"middle","fontSize":10},"encoding":{"text":{"field":"t"}}},
   {"data":{"name":"ftext"},"transform":[{"filter":"datum.p==='K' && datum.k==='v'"}],"mark":{"type":"text","align":"center","baseline":"middle","fontSize":10,"angle":270},"encoding":{"text":{"field":"t"}}}
  ]},
 {"width":200,"height":185,"title":{"text":"L.","dx":2,"dy":44},
  "encoding":{"x":{"field":"g","type":"nominal","scale":{"domain":["Control","SP"],"range":[38,160],"paddingInner":0.31,"paddingOuter":0.33,"align":0.5},"axis":{"title":null,"offset":-17.3,"labelFontSize":12}},
   "y":{"field":"m","type":"quantitative","scale":{"domain":[0,5],"range":[167.7,44.3],"nice":false},"axis":{"title":"Treg:Th1 ratio in MLN","values":[0,1,2,3,4,5],"format":"d","offset":-38,"labelFontSize":7.5}}},
  "layer":[
   {"data":{"name":"bars"},"transform":[{"filter":"datum.p==='L'"}],"mark":{"type":"bar","stroke":"black","strokeWidth":1.6},"encoding":{"fill":{"field":"g","type":"nominal","scale":{"domain":["Control","SP"],"range":["#262626","#ffffff"]},"legend":null}}},
   {"data":{"name":"bars"},"transform":[{"filter":"datum.p==='L'"}],"mark":{"type":"rule","strokeWidth":1.5,"color":"black"},"encoding":{"y2":{"field":"u"}}},
   {"data":{"name":"bars"},"transform":[{"filter":"datum.p==='L'"}],"mark":{"type":"tick","size":16,"thickness":1.5,"color":"black"},"encoding":{"y":{"field":"u","type":"quantitative"}}}
  ]},
 {"width":195,"height":185,"title":{"text":"M.","dx":-20,"dy":44},
  "encoding":{"x":{"field":"g","type":"nominal","scale":{"domain":["Control","SP"],"range":[47,160],"paddingInner":0.33,"paddingOuter":0.32,"align":0.48},"axis":{"title":null,"offset":-15.7,"labelFontSize":12}},
   "y":{"field":"m","type":"quantitative","scale":{"domain":[0,15],"range":[169.3,44],"nice":false},"axis":{"title":"Treg:Th17 ratio in MLN","values":[0,5,10,15],"format":"d","offset":-47,"labelFontSize":7.5}}},
  "layer":[
   {"data":{"name":"bars"},"transform":[{"filter":"datum.p==='M'"}],"mark":{"type":"bar","stroke":"black","strokeWidth":1.6},"encoding":{"fill":{"field":"g","type":"nominal","scale":{"domain":["Control","SP"],"range":["#262626","#ffffff"]},"legend":null}}},
   {"data":{"name":"bars"},"transform":[{"filter":"datum.p==='M'"}],"mark":{"type":"rule","strokeWidth":1.5,"color":"black"},"encoding":{"y2":{"field":"u"}}},
   {"data":{"name":"bars"},"transform":[{"filter":"datum.p==='M'"}],"mark":{"type":"tick","size":15,"thickness":1.5,"color":"black"},"encoding":{"y":{"field":"u","type":"quantitative"}}},
   {"data":{"name":"sig"},"transform":[{"filter":"datum.p==='M'"}],"mark":{"type":"rule","strokeWidth":1.5,"color":"black"},"encoding":{"x":{"datum":"Control"},"x2":{"datum":"SP"}}},
   {"data":{"name":"sig"},"transform":[{"filter":"datum.p==='M'"}],"mark":{"type":"text","fontSize":12,"baseline":"alphabetic","dy":4},"encoding":{"x":{"datum":"Control","bandPosition":1.246},"text":{"field":"s"}}}
  ]}
]
}
